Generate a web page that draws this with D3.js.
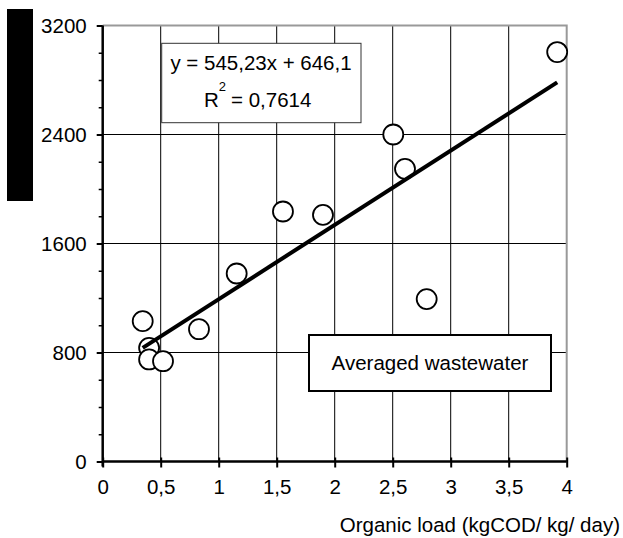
<!DOCTYPE html>
<html>
<head>
<meta charset="utf-8">
<script src="https://cdn.jsdelivr.net/npm/d3@7"></script>
<style>
  body { margin: 0; background: #fff; }
  svg text { font-family: "Liberation Sans", Arial, sans-serif; fill: #000; }
</style>
</head>
<body>
<div id="chart"></div>
<script>
// organic load (kgCOD/kg/day) vs. response, averaged wastewater
var loadValues = [0.345, 0.40, 0.40, 0.52, 0.83, 1.155, 1.554, 1.899, 2.505, 2.606, 2.793, 3.918];
var respValues = [1030, 834, 749, 736, 971, 1380, 1835, 1810, 2400, 2148, 1192, 3005];
var xTicks = [0, 0.5, 1, 1.5, 2, 2.5, 3, 3.5, 4];
var yTicks = [0, 800, 1600, 2400, 3200];
var yMinorTicks = [200, 400, 600, 1000, 1200, 1400, 1800, 2000, 2200, 2600, 2800, 3000];
var slope = 545.23, intercept = 646.1;
var eqText = "y = 545,23x + 646,1";
var r2Text = "= 0,7614";
var legendText = "Averaged wastewater";
var xTitle = "Organic load (kgCOD/ kg/ day)";

var W = 623, H = 538;
var fmt = function(d) { return String(d).replace(".", ","); };

var svg = d3.select("#chart").append("svg")
  .attr("width", W)
  .attr("height", H);

var x = d3.scaleLinear().domain([0, 4]).range([102.7, 566.7]);
var y = d3.scaleLinear().domain([0, 3200]).range([461.5, 25.5]);

// redacted y-axis title block
svg.append("rect")
  .attr("x", 7).attr("y", 9)
  .attr("width", 26).attr("height", 192)
  .attr("fill", "#000");

// grid
var grid = svg.append("g");
grid.selectAll("line.vg")
  .data(xTicks.filter(function(d) { return d > 0 && d < 4; }))
  .enter().append("line")
  .attr("x1", function(d) { return x(d); })
  .attr("x2", function(d) { return x(d); })
  .attr("y1", y(3200)).attr("y2", y(0))
  .attr("stroke", "#000").attr("stroke-width", 1);
grid.selectAll("line.hg")
  .data(yTicks.filter(function(d) { return d > 0 && d < 3200; }))
  .enter().append("line")
  .attr("y1", function(d) { return y(d); })
  .attr("y2", function(d) { return y(d); })
  .attr("x1", x(0)).attr("x2", x(4))
  .attr("stroke", "#000").attr("stroke-width", 1);

// top / right frame in grey
svg.append("path")
  .attr("d", "M" + x(0) + "," + y(3200) + "H" + x(4) + "V" + y(0))
  .attr("fill", "none")
  .attr("stroke", "#999")
  .attr("stroke-width", 2);

// axes
var xAxis = svg.append("g")
  .attr("transform", "translate(0," + y(0) + ")")
  .call(d3.axisBottom(x).tickValues(xTicks).tickFormat(fmt).tickSize(6).tickPadding(12));
xAxis.select(".domain").attr("stroke", "#000").attr("stroke-width", 2.5).attr("d", "M" + x(0) + ",0H" + x(4));
xAxis.selectAll(".tick line").attr("stroke-width", 2).attr("y1", -4);
xAxis.selectAll(".tick text").style("font-size", "20.5px");

var yAxis = svg.append("g")
  .attr("transform", "translate(" + x(0) + ",0)")
  .call(d3.axisLeft(y).tickValues(yTicks).tickFormat(fmt).tickSize(6).tickPadding(10));
yAxis.select(".domain").attr("stroke", "#000").attr("stroke-width", 2.5).attr("d", "M0," + y(3200) + "V" + (y(0) + 5));
yAxis.selectAll(".tick line").attr("stroke-width", 2);
yAxis.selectAll(".tick text").style("font-size", "20.5px").attr("dy", "0.36em");

svg.append("g")
  .attr("transform", "translate(" + x(0) + ",0)")
  .call(d3.axisLeft(y).tickValues(yMinorTicks).tickFormat("").tickSize(4))
  .call(function(g) {
    g.select(".domain").remove();
    g.selectAll(".tick line").attr("stroke-width", 1.5);
  });

// points
svg.append("g").selectAll("circle")
  .data(loadValues)
  .enter().append("circle")
  .attr("cx", function(d) { return x(d); })
  .attr("cy", function(d, i) { return y(respValues[i]); })
  .attr("r", 10)
  .attr("fill", "#fff")
  .attr("stroke", "#000")
  .attr("stroke-width", 1.8);

// regression line, drawn over the points
var xMin = d3.min(loadValues), xMax = d3.max(loadValues);
var line = d3.line()
  .x(function(d) { return x(d); })
  .y(function(d) { return y(slope * d + intercept); });
svg.append("path")
  .datum([xMin, xMax])
  .attr("d", line)
  .attr("fill", "none")
  .attr("stroke", "#000")
  .attr("stroke-width", 4);

// equation box
var eq = svg.append("g");
eq.append("rect")
  .attr("x", 161.7).attr("y", 43.3)
  .attr("width", 199.3).attr("height", 79.4)
  .attr("fill", "#fff")
  .attr("stroke", "#333").attr("stroke-width", 1);
eq.append("text")
  .attr("x", 261).attr("y", 70)
  .attr("text-anchor", "middle")
  .style("font-size", "20.5px")
  .text(eqText);
var r2 = eq.append("text")
  .attr("x", 204).attr("y", 106.7)
  .style("font-size", "20.5px");
r2.append("tspan").text("R");
r2.append("tspan").attr("dy", -16).style("font-size", "13px").text("2");
r2.append("tspan").attr("dy", 16).attr("dx", 5).text(r2Text);

// legend box
var lg = svg.append("g");
lg.append("rect")
  .attr("x", 309).attr("y", 335)
  .attr("width", 242).attr("height", 56)
  .attr("fill", "#fff")
  .attr("stroke", "#000").attr("stroke-width", 2);
lg.append("text")
  .attr("x", 430).attr("y", 369.5)
  .attr("text-anchor", "middle")
  .style("font-size", "20.5px")
  .text(legendText);

// x-axis title
svg.append("text")
  .attr("x", 620).attr("y", 531.5)
  .attr("text-anchor", "end")
  .style("font-size", "20.5px")
  .text(xTitle);
</script>
</body>
</html>
